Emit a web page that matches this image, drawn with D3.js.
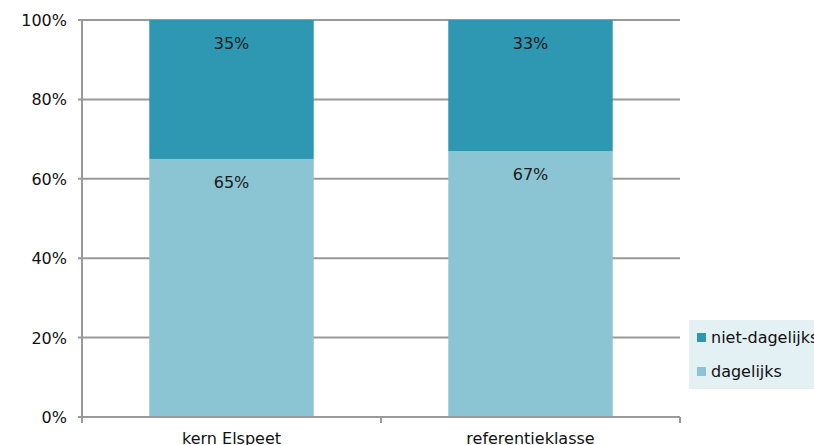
<!DOCTYPE html>
<html>
<head>
<meta charset="utf-8">
<script src="https://cdn.jsdelivr.net/npm/d3@7.9.0/dist/d3.min.js"></script>
<style>
  body { margin: 0; background: #fff; }
  svg { display: block; font-family: "DejaVu Sans", Verdana, sans-serif; }
</style>
</head>
<body>
<svg id="chart" width="814" height="445"></svg>
<script>
// chart data
const categories = ['kern Elspeet', 'referentieklasse'];
const dagelijks = [65, 67];
const nietDagelijks = [35, 33];
const yTicks = [0, 20, 40, 60, 80, 100];
const seriesNames = ['dagelijks', 'niet-dagelijks'];
const seriesColors = ['#8bc5d3', '#2e97b2'];

const svg = d3.select('#chart');
const margin = { left: 82, right: 134, top: 20, bottom: 28 };
const width = 814 - margin.left - margin.right;
const height = 445 - margin.top - margin.bottom;

const g = svg.append('g').attr('transform', `translate(${margin.left},${margin.top})`);

const x = d3.scaleBand().domain(categories).range([0, width]).paddingInner(0.45).paddingOuter(0.225);
const y = d3.scaleLinear().domain([0, 100]).range([height, 0]);

// gridlines
g.selectAll('.grid')
    .data(yTicks)
    .join('line')
    .attr('x1', -4)
    .attr('x2', width)
    .attr('y1', d => y(d))
    .attr('y2', d => y(d))
    .attr('stroke', '#999')
    .attr('stroke-width', 2);

// stack the two series
const rows = categories.map((c, i) => ({ cat: c, dagelijks: dagelijks[i], 'niet-dagelijks': nietDagelijks[i] }));
const stacked = d3.stack().keys(seriesNames)(rows);
const color = d3.scaleOrdinal(seriesNames, seriesColors);

stacked.forEach(layer => {
    const lg = g.append('g').attr('fill', color(layer.key));
    lg.selectAll('rect')
        .data(layer)
        .join('rect')
        .attr('x', d => x(d.data.cat))
        .attr('width', x.bandwidth())
        .attr('y', d => y(d[1]))
        .attr('height', d => y(d[0]) - y(d[1]));
    g.append('g').selectAll('text')
        .data(layer)
        .join('text')
        .attr('x', d => x(d.data.cat) + x.bandwidth() / 2)
        .attr('y', d => y(d[1]) + 29)
        .attr('text-anchor', 'middle')
        .attr('font-size', 16)
        .attr('fill', '#1a1a1a')
        .text(d => `${d[1] - d[0]}%`);
});

// y axis
g.append('line')
    .attr('x1', 0).attr('x2', 0)
    .attr('y1', 0).attr('y2', height)
    .attr('stroke', '#999').attr('stroke-width', 2);
g.selectAll('.ylab')
    .data(yTicks)
    .join('text')
    .attr('x', -15)
    .attr('y', d => y(d) + 6)
    .attr('text-anchor', 'end')
    .attr('font-size', 16)
    .attr('fill', '#111')
    .text(d => `${d}%`);

// x axis with ticks between categories
g.append('line')
    .attr('x1', 0).attr('x2', width)
    .attr('y1', height).attr('y2', height)
    .attr('stroke', '#999').attr('stroke-width', 2);
const bounds = [0, width / 2, width];
g.selectAll('.xtick')
    .data(bounds)
    .join('line')
    .attr('x1', d => d).attr('x2', d => d)
    .attr('y1', height).attr('y2', height + 6)
    .attr('stroke', '#999').attr('stroke-width', 2);
g.selectAll('.xlab')
    .data(categories)
    .join('text')
    .attr('x', d => x(d) + x.bandwidth() / 2)
    .attr('y', height + 27)
    .attr('text-anchor', 'middle')
    .attr('font-size', 16)
    .attr('fill', '#111')
    .text(d => d);

// legend
const legend = svg.append('g').attr('transform', 'translate(689,320)');
legend.append('rect').attr('width', 130).attr('height', 69).attr('fill', '#e3f0f4');
const legendItems = seriesNames.slice().reverse();
legend.selectAll('g.item')
    .data(legendItems)
    .join('g')
    .attr('class', 'item')
    .attr('transform', (d, i) => `translate(8,${13 + i * 34})`)
    .each(function (d) {
        const it = d3.select(this);
        it.append('rect').attr('width', 9).attr('height', 9).attr('fill', color(d));
        it.append('text').attr('x', 14).attr('y', 10).attr('font-size', 16).attr('fill', '#111').text(d);
    });
</script>
</body>
</html>
